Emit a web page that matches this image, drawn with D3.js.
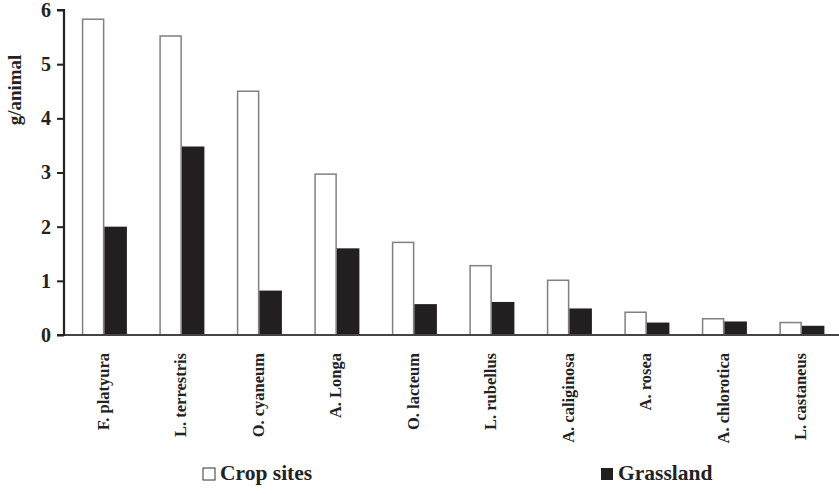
<!DOCTYPE html>
<html><head><meta charset="utf-8">
<script src="https://cdn.jsdelivr.net/npm/d3@7"></script>
<style>body{margin:0;background:#fff}svg{display:block}</style>
</head><body>
<script>
const categories = ["F. platyura","L. terrestris","O. cyaneum","A. Longa","O. lacteum","L. rubellus","A. caliginosa","A. rosea","A. chlorotica","L. castaneus"];
const cropSites = [5.83,5.52,4.50,2.97,1.71,1.28,1.01,0.42,0.30,0.23];
const grassland = [2.00,3.48,0.82,1.60,0.57,0.61,0.49,0.23,0.25,0.17];
const seriesNames = ["Crop sites","Grassland"];
const yTicks = [0,1,2,3,4,5,6];

const W = 839, H = 494;
const m = {left: 64, right: 0, top: 10, bottom: 159};
const svg = d3.select("body").append("svg").attr("width", W).attr("height", H);
const font = "'Liberation Serif', 'DejaVu Serif', serif";

const x = d3.scaleBand().domain(categories).range([m.left, W - m.right]).paddingInner(0).paddingOuter(0);
const y = d3.scaleLinear().domain([0, 6]).range([H - m.bottom, m.top]);
const x1 = d3.scaleBand().domain(seriesNames).range([0, x.bandwidth()]).paddingInner(0).paddingOuter(0.72).align(0.55);

const g = svg.append("g");
categories.forEach((c, i) => {
  const vals = [cropSites[i], grassland[i]];
  seriesNames.forEach((s, j) => {
    g.append("rect")
      .attr("x", x(c) + x1(s) + (j === 0 ? 0.75 : 0))
      .attr("y", y(vals[j]))
      .attr("width", x1.bandwidth() - (j === 0 ? 1.5 : 0))
      .attr("height", y(0) - y(vals[j]))
      .attr("fill", j === 0 ? "#fff" : "#231f20")
      .attr("stroke", j === 0 ? "#808080" : "none")
      .attr("stroke-width", 1.5);
  });
});

// x axis line
svg.append("line").attr("x1", m.left).attr("x2", W).attr("y1", y(0)).attr("y2", y(0))
  .attr("stroke", "#444").attr("stroke-width", 2);

// y axis
const yAxis = svg.append("g").attr("transform", `translate(${m.left},0)`)
  .call(d3.axisLeft(y).tickValues(yTicks).tickSize(7).tickPadding(6).tickFormat(d3.format("d")));
yAxis.select(".domain").attr("stroke", "#222").attr("stroke-width", 2.2).attr("d", `M-7,${y(6)}H0V${y(0)}H-7`);
yAxis.selectAll(".tick line").attr("stroke", "#222").attr("stroke-width", 2);
yAxis.selectAll(".tick text").attr("font-family", font).attr("font-weight", "bold")
  .attr("font-size", 20).attr("fill", "#222");

// x labels
const labelY = y(0) + 18;
svg.append("g").selectAll("text").data(categories).join("text")
  .attr("transform", d => `translate(${x(d) + x.bandwidth()/2 + 6},${labelY}) rotate(-90)`)
  .attr("text-anchor", "end")
  .attr("font-family", font).attr("font-weight", "bold").attr("font-size", 16.5).attr("fill", "#222")
  .text(d => d);

// y title
svg.append("text").attr("transform", `translate(21,90) rotate(-90)`)
  .attr("text-anchor", "middle").attr("font-family", font).attr("font-weight", "bold")
  .attr("font-size", 19).attr("fill", "#222").text("g/animal");

// legend
const legendX = [203, 601];
seriesNames.forEach((s, j) => {
  const lg = svg.append("g").attr("transform", `translate(${legendX[j]},${480})`);
  lg.append("rect").attr("x", 0).attr("y", -12).attr("width", 12).attr("height", 12)
    .attr("fill", j === 0 ? "#fff" : "#231f20").attr("stroke", j === 0 ? "#333" : "none").attr("stroke-width", 1);
  lg.append("text").attr("x", 17).attr("y", 0).attr("font-family", font).attr("font-weight", "bold")
    .attr("font-size", 21.5).attr("fill", "#222").text(s);
});
</script>
</body></html>
